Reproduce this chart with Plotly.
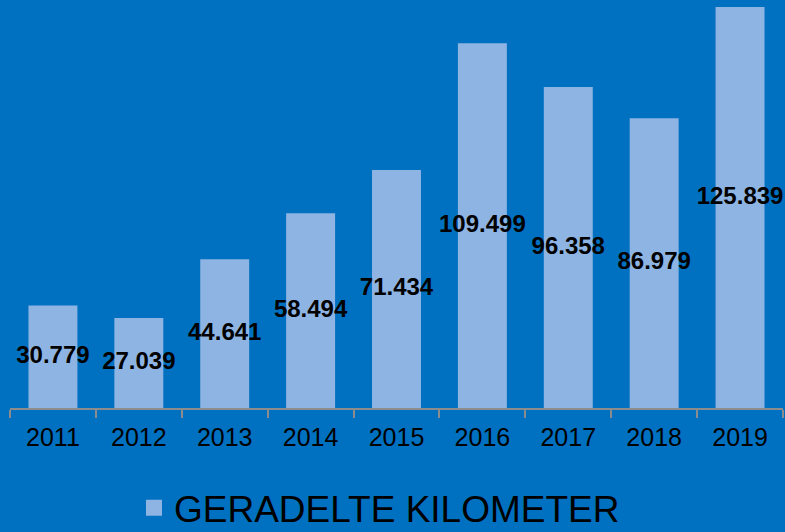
import plotly.graph_objects as go

years = ["2011", "2012", "2013", "2014", "2015", "2016", "2017", "2018", "2019"]
values = [30.779, 27.039, 44.641, 58.494, 71.434, 109.499, 96.358, 86.979, 125.839]
labels = ["30.779", "27.039", "44.641", "58.494", "71.434", "109.499", "96.358", "86.979", "125.839"]
series_name = "GERADELTE KILOMETER"

BG = "#0070C0"
BAR = "#8EB4E3"
FONT = "Liberation Sans, Arial, sans-serif"

fig = go.Figure()
fig.add_trace(go.Bar(
    x=years, y=values, name=series_name,
    marker=dict(color=BAR, line=dict(width=0)),
    showlegend=False, hoverinfo="x+y",
))
fig.add_trace(go.Scatter(
    x=years, y=[v / 2 for v in values], text=labels, mode="text",
    textposition="middle center",
    textfont=dict(family=FONT, size=24, color="#000000", weight="bold"),
    showlegend=False, cliponaxis=False, hoverinfo="skip",
))
# legend entry (square swatch)
fig.add_trace(go.Scatter(
    x=[None], y=[None], mode="markers", name=series_name,
    marker=dict(symbol="square", size=19, color=BAR),
    showlegend=True,
))

fig.update_layout(
    width=785, height=532,
    paper_bgcolor=BG, plot_bgcolor=BG,
    margin=dict(l=10, r=2, t=7, b=124, autoexpand=False),
    bargap=0.43,
    font=dict(family=FONT, color="#000000"),
    xaxis=dict(
        type="category", tickson="boundaries", ticks="outside", ticklen=8,
        tickcolor="#8C8C8C", tickwidth=2, showline=True, linecolor="#8C8C8C", linewidth=2,
        showgrid=False, tickfont=dict(size=25, color="#000000", family=FONT),
        zeroline=False, ticklabelstandoff=6,
    ),
    yaxis=dict(visible=False, range=[0, 120.4], showgrid=False, zeroline=False),
    legend=dict(
        orientation="h", x=0.478, xanchor="center", y=-0.327, yanchor="bottom",
        font=dict(size=37, color="#000000", family=FONT),
        bgcolor="rgba(0,0,0,0)", itemwidth=30,
    ),
)

fig.write_html(
    "out.html",
    config={"displayModeBar": False},
    post_script="document.body.style.margin='0';document.body.style.background='#0070C0';",
)
